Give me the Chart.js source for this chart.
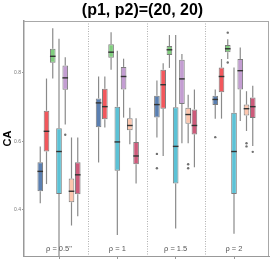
<!DOCTYPE html>
<html>
<head>
<meta charset="utf-8">
<script src="https://cdn.jsdelivr.net/npm/chart.js@4"></script>
<style>
body { margin: 0; background: #fff; }
</style>
</head>
<body>
<canvas id="chart" width="273" height="273"></canvas>
<script>
const chartTitle = '(p1, p2)=(20, 20)';
const yTitle = 'CA';
const groupLabels = ['ρ = 0.5"', 'ρ = 1', 'ρ = 1.5', 'ρ = 2'];
const groupPositions = [1, 2, 3, 4];
const yTicks = [0.4, 0.6, 0.8];

// [min, q1, median, q3, max] for each group
const statsBlue    = [[0.419, 0.454, 0.512, 0.539, 0.585], [0.538, 0.641, 0.712, 0.725, 0.789], [0.611, 0.669, 0.707, 0.733, 0.777], [0.666, 0.706, 0.722, 0.733, 0.751]];
const statsRed     = [[0.475, 0.570, 0.629, 0.689, 0.783], [0.640, 0.664, 0.701, 0.753, 0.789], [0.557, 0.695, 0.765, 0.809, 0.828], [0.666, 0.743, 0.789, 0.815, 0.840]];
const statsGreen   = [[0.783, 0.829, 0.848, 0.870, 0.930], [0.809, 0.844, 0.860, 0.883, 0.918], [0.814, 0.852, 0.867, 0.878, 0.910], [0.840, 0.860, 0.870, 0.881, 0.898]];
const statsCyan    = [[0.265, 0.446, 0.570, 0.638, 0.899], [0.326, 0.514, 0.598, 0.701, 0.864], [0.345, 0.477, 0.585, 0.699, 0.910], [0.330, 0.446, 0.570, 0.683, 0.815]];
const statsPurple  = [[0.649, 0.750, 0.785, 0.821, 0.845], [0.669, 0.751, 0.789, 0.817, 0.841], [0.594, 0.709, 0.782, 0.838, 0.855], [0.659, 0.751, 0.806, 0.840, 0.874]];
const statsPeach   = [[0.354, 0.422, 0.454, 0.491, 0.611], [0.591, 0.632, 0.646, 0.667, 0.698], [0.594, 0.651, 0.678, 0.698, 0.736], [0.630, 0.675, 0.695, 0.707, 0.746]];
const statsCrimson = [[0.381, 0.445, 0.502, 0.539, 0.611], [0.477, 0.533, 0.557, 0.598, 0.667], [0.524, 0.620, 0.646, 0.693, 0.751], [0.586, 0.668, 0.701, 0.728, 0.762]];

const outliersBlue    = [[], [], [0.563, 0.521], [0.612]];
const outliersRed     = [[], [], [], []];
const outliersGreen   = [[], [], [], [0.917, 0.830]];
const outliersCyan    = [[], [], [], []];
const outliersPurple  = [[0.619], [], [], []];
const outliersPeach   = [[], [], [0.533, 0.521], [0.594, 0.585]];
const outliersCrimson = [[], [], [], [0.569]];

const allStats = [statsBlue, statsRed, statsGreen, statsCyan, statsPurple, statsPeach, statsCrimson];
const allOutliers = [outliersBlue, outliersRed, outliersGreen, outliersCyan, outliersPurple, outliersPeach, outliersCrimson];
const fills = ['#5a7fb1', '#f2575c', '#7fce7d', '#5cc2d6', '#c39dd2', '#fdc6ae', '#cd5a7a'];

const font = "'Liberation Sans', Arial, Helvetica, sans-serif";

function line(ctx, x1, y1, x2, y2) {
    ctx.beginPath();
    ctx.moveTo(x1, y1);
    ctx.lineTo(x2, y2);
    ctx.stroke();
}

const boxPlugin = {
    id: 'boxes',
    beforeDatasetsDraw(chart) {
        const ctx = chart.ctx;
        const x = chart.scales.x;
        const y = chart.scales.y;
        const area = chart.chartArea;
        ctx.save();

        // dotted group dividers
        ctx.strokeStyle = '#b0b0b0';
        ctx.lineWidth = 1;
        ctx.setLineDash([1, 1.5]);
        for (let g = 1; g < groupPositions.length; g++) {
            const px = Math.round(x.getPixelForValue((groupPositions[g - 1] + groupPositions[g]) / 2)) + 0.5;
            line(ctx, px, area.top, px, area.bottom);
        }
        ctx.setLineDash([]);

        // whiskers
        ctx.strokeStyle = '#8a8a8a';
        ctx.lineWidth = 1.2;
        allStats.forEach((stats, s) => {
            chart.getDatasetMeta(s).data.forEach((bar, g) => {
                const st = stats[g];
                line(ctx, bar.x, y.getPixelForValue(st[4]), bar.x, y.getPixelForValue(st[3]));
                line(ctx, bar.x, y.getPixelForValue(st[1]), bar.x, y.getPixelForValue(st[0]));
            });
        });
        ctx.restore();
    },
    afterDatasetsDraw(chart) {
        const ctx = chart.ctx;
        const x = chart.scales.x;
        const y = chart.scales.y;
        const area = chart.chartArea;
        ctx.save();

        // medians and outliers
        allStats.forEach((stats, s) => {
            chart.getDatasetMeta(s).data.forEach((bar, g) => {
                const half = bar.width / 2;
                ctx.strokeStyle = '#333';
                ctx.lineWidth = 1.4;
                const py = y.getPixelForValue(stats[g][2]);
                line(ctx, bar.x - half, py, bar.x + half, py);
                ctx.fillStyle = '#707070';
                allOutliers[s][g].forEach(v => {
                    ctx.beginPath();
                    ctx.arc(bar.x, y.getPixelForValue(v), 1.2, 0, Math.PI * 2);
                    ctx.fill();
                });
            });
        });

        // panel border top and right
        ctx.strokeStyle = '#a8a8a8';
        ctx.lineWidth = 1;
        line(ctx, area.left, area.top + 0.5, area.right, area.top + 0.5);
        line(ctx, area.right - 0.5, area.top, area.right - 0.5, area.bottom);

        // group labels
        ctx.fillStyle = '#555';
        ctx.font = '7.5px ' + font;
        ctx.textAlign = 'center';
        ctx.textBaseline = 'middle';
        groupLabels.forEach((lab, g) => {
            ctx.fillText(lab, x.getPixelForValue(groupPositions[g]), area.bottom - 7);
        });

        // title
        ctx.fillStyle = '#000';
        ctx.font = 'bold 16px ' + font;
        ctx.fillText(chartTitle, chart.width / 2 + 6, 11);
        ctx.restore();
    }
};

const datasets = allStats.map((stats, s) => ({
    data: groupPositions.map((gx, g) => ({ x: gx, y: [stats[g][1], stats[g][3]] })),
    backgroundColor: fills[s],
    borderColor: '#7d7d7d',
    borderWidth: 1,
    borderSkipped: false,
    categoryPercentage: 0.75,
    barPercentage: 0.9
}));

new Chart(document.getElementById('chart'), {
    type: 'bar',
    data: { datasets: datasets },
    options: {
        responsive: false,
        devicePixelRatio: 1,
        animation: false,
        layout: { padding: { top: 21, right: 4, left: 0, bottom: 0 } },
        plugins: {
            legend: { display: false },
            tooltip: { enabled: false }
        },
        scales: {
            x: {
                type: 'linear',
                min: 0.4,
                max: 4.6,
                offset: false,
                afterBuildTicks: scale => { scale.ticks = groupPositions.map(v => ({ value: v })); },
                afterFit: scale => { scale.height = 17; },
                ticks: { display: false },
                grid: { offset: false, drawOnChartArea: false, tickLength: 3, color: '#999' },
                border: { color: '#999', width: 1 }
            },
            y: {
                min: 0.265,
                max: 0.951,
                afterBuildTicks: scale => { scale.ticks = yTicks.map(v => ({ value: v })); },
                afterFit: scale => { scale.width = 24; },
                ticks: {
                    font: { size: 5, family: font },
                    color: '#777',
                    padding: 1,
                    callback: v => v.toFixed(1)
                },
                grid: { drawOnChartArea: false, tickLength: 2, color: '#999' },
                border: { color: '#999', width: 1.5 },
                title: {
                    display: true,
                    text: yTitle,
                    color: '#000',
                    font: { size: 11, weight: 'bold', family: font },
                    padding: { top: 1.5, bottom: 0 }
                }
            }
        }
    },
    plugins: [boxPlugin]
});
</script>
</body>
</html>
